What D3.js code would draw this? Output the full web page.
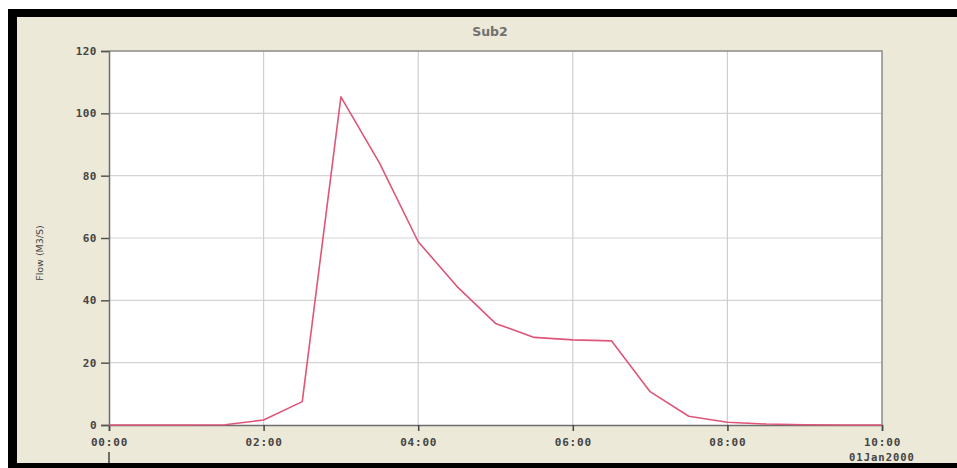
<!DOCTYPE html>
<html>
<head>
<meta charset="utf-8">
<script src="https://cdn.jsdelivr.net/npm/d3@7"></script>
<style>
  html, body { margin: 0; padding: 0; background: #fff; }
  svg { display: block; }
</style>
</head>
<body>
<svg id="chart"></svg>
<script>
// data (Sub2 outflow hydrograph)
const times = ['00:00', '00:30', '01:00', '01:30', '02:00', '02:30', '03:00', '03:30', '04:00',
               '04:30', '05:00', '05:30', '06:00', '06:30', '07:00', '07:30', '08:00', '08:30',
               '09:00', '09:30', '10:00'];
const flows = [0, 0, 0, 0.1, 1.6, 7.5, 105.3, 84, 58.8,
               44.5, 32.6, 28.1, 27.3, 27.0, 10.7, 2.8, 0.9, 0.3,
               0.1, 0, 0];
const yTicks = [0, 20, 40, 60, 80, 100, 120];
const xTickHours = [0, 2, 4, 6, 8, 10];
const title = 'Sub2';
const yLabel = 'Flow (M3/S)';
const dateLabel = '01Jan2000';

const width = 957, height = 468;
const parse = d3.timeParse('%Y-%m-%d %H:%M');
const data = times.map((t, i) => ({ date: parse('2000-01-01 ' + t), value: flows[i] }));

const svg = d3.select('#chart').attr('width', width).attr('height', height);

// frame
svg.append('rect').attr('x', 8).attr('y', 9).attr('width', width).attr('height', height)
    .attr('fill', '#000');
svg.append('rect').attr('x', 17).attr('y', 17).attr('width', width - 17).attr('height', 446)
    .attr('fill', '#ECE9D8');

const plot = { left: 109, right: 882, top: 51, bottom: 425 };

const x = d3.scaleTime()
    .domain([parse('2000-01-01 00:00'), parse('2000-01-01 10:00')])
    .range([plot.left, plot.right]);
const y = d3.scaleLinear().domain([0, 120]).range([plot.bottom, plot.top]);

const tickDates = xTickHours.map(h => new Date(2000, 0, 1, h));
const labelFont = "'DejaVu Sans Mono', monospace";

svg.append('rect')
    .attr('x', plot.left).attr('y', plot.top)
    .attr('width', plot.right - plot.left).attr('height', plot.bottom - plot.top)
    .attr('fill', '#fff');

// grid
svg.append('g').selectAll('line')
    .data(yTicks.slice(1, -1)).enter().append('line')
    .attr('x1', plot.left).attr('x2', plot.right)
    .attr('y1', d => y(d)).attr('y2', d => y(d))
    .attr('stroke', '#d4d4d4').attr('stroke-width', 1.2);
svg.append('g').selectAll('line')
    .data(tickDates.slice(1, -1)).enter().append('line')
    .attr('x1', d => x(d)).attr('x2', d => x(d))
    .attr('y1', plot.top).attr('y2', plot.bottom)
    .attr('stroke', '#cfcfcf').attr('stroke-width', 1.2);

// top / right border
svg.append('path')
    .attr('d', `M${plot.left},${plot.top}H${plot.right}V${plot.bottom}`)
    .attr('fill', 'none').attr('stroke', '#8a8a8a').attr('stroke-width', 1.5);

// y axis
const yAxis = svg.append('g')
    .attr('transform', `translate(${plot.left},0)`)
    .call(d3.axisLeft(y).tickValues(yTicks).tickSize(8).tickPadding(4).tickFormat(d3.format('d')));
yAxis.select('.domain').attr('stroke', '#6e6e6e').attr('stroke-width', 1.5);
yAxis.selectAll('.tick line').attr('stroke', '#555').attr('stroke-width', 1.5);
yAxis.selectAll('.tick text')
    .attr('font-family', labelFont).attr('font-size', 11).attr('font-weight', 'bold')
    .attr('fill', '#444').attr('letter-spacing', 0.5);

// x axis
const xAxis = svg.append('g')
    .attr('transform', `translate(0,${plot.bottom})`)
    .call(d3.axisBottom(x).tickValues(tickDates).tickSize(6).tickPadding(7)
        .tickFormat(d3.timeFormat('%H:%M')));
xAxis.select('.domain').attr('stroke', '#6e6e6e').attr('stroke-width', 1.5);
xAxis.selectAll('.tick line').attr('stroke', '#444').attr('stroke-width', 1.5);
xAxis.selectAll('.tick text')
    .attr('font-family', labelFont).attr('font-size', 11).attr('font-weight', 'bold')
    .attr('fill', '#444').attr('letter-spacing', 0.8);

// day marker under first label
svg.append('line')
    .attr('x1', x(tickDates[0])).attr('x2', x(tickDates[0]))
    .attr('y1', 452).attr('y2', 463)
    .attr('stroke', '#444').attr('stroke-width', 1.5);

svg.append('text')
    .attr('x', x(tickDates[tickDates.length - 1])).attr('y', 461)
    .attr('text-anchor', 'middle')
    .attr('font-family', labelFont).attr('font-size', 10.5).attr('font-weight', 'bold')
    .attr('fill', '#444').attr('letter-spacing', 1)
    .text(dateLabel);

// line
const line = d3.line().x(d => x(d.date)).y(d => y(d.value));
svg.append('path')
    .datum(data)
    .attr('d', line)
    .attr('fill', 'none')
    .attr('stroke', '#de5678')
    .attr('stroke-width', 1.6)
    .attr('stroke-linejoin', 'round');

// title
svg.append('text')
    .attr('x', 490).attr('y', 36)
    .attr('text-anchor', 'middle')
    .attr('font-family', "'DejaVu Sans', sans-serif").attr('font-size', 12.5).attr('font-weight', 'bold')
    .attr('fill', '#707070')
    .text(title);

// y label
svg.append('text')
    .attr('transform', 'translate(43,253) rotate(-90)')
    .attr('text-anchor', 'middle')
    .attr('font-family', "'DejaVu Sans', sans-serif").attr('font-size', 9.5)
    .attr('fill', '#444')
    .text(yLabel);
</script>
</body>
</html>
